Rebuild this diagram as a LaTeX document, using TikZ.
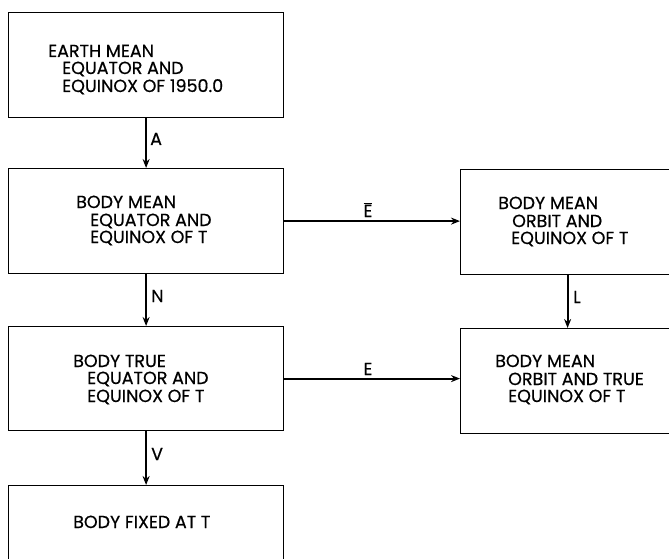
\documentclass[tikz,border=0pt]{standalone}
\usepackage{fontspec}
\setmainfont{Poppins}[FakeBold=0.5]
\usetikzlibrary{arrows.meta}
\begin{document}
\begin{tikzpicture}[x=1pt,y=-1pt,
 box/.style={draw, line width=1.2pt, rectangle, inner sep=0pt, anchor=north west},
 txt/.style={anchor=base west, inner sep=0pt, font=\fontsize{17.5}{17}\selectfont},
 lbl/.style={anchor=base west, inner sep=0pt, font=\fontsize{17.5}{17}\selectfont},
 conn/.style={line width=1.8pt, -{Stealth[length=9pt,width=7pt]}}]
\useasboundingbox (0,0) rectangle (669,559);
% boxes
\node[box, minimum width=275pt, minimum height=105pt] (b1) at (8,12) {};
\node[box, minimum width=275pt, minimum height=105pt] (b2) at (8,168) {};
\node[box, minimum width=275pt, minimum height=104pt] (b3) at (8,326) {};
\node[box, minimum width=275pt, minimum height=80pt] (b4) at (8,485) {};
\node[box, minimum width=214pt, minimum height=105pt] (r1) at (460,169) {};
\node[box, minimum width=214pt, minimum height=105pt] (r2) at (460,328) {};
% texts
\node[txt] (t11) at (48,57) {EARTH MEAN};
\node[txt] (t12) at (62,74) {EQUATOR AND};
\node[txt] (t13) at (62,92) {EQUINOX OF 1950.0};
\node[txt] (t21) at (76,208) {BODY MEAN};
\node[txt] (t22) at (90,226) {EQUATOR AND};
\node[txt] (t23) at (90,243) {EQUINOX OF T};
\node[txt] (t31) at (73,367) {BODY TRUE};
\node[txt] (t32) at (87,384) {EQUATOR AND};
\node[txt] (t33) at (87,402) {EQUINOX OF T};
\node[txt] (t41) at (73,528) {BODY FIXED AT T};
\node[txt] (t51) at (498,209) {BODY MEAN};
\node[txt] (t52) at (512,227) {ORBIT AND};
\node[txt] (t53) at (511,244) {EQUINOX OF T};
\node[txt] (t61) at (495,367) {BODY MEAN};
\node[txt] (t62) at (508,385) {ORBIT AND TRUE};
\node[txt] (t63) at (508,402) {EQUINOX OF T};
% connectors
\draw[conn] (b1.south) -- (b2.north);
\draw[conn] (b2.south) -- (b3.north);
\draw[conn] (b3.south) -- (b4.north);
\draw[conn] (b2.east) -- (b2.east -| r1.west);
\draw[conn] (b3.east) -- (b3.east -| r2.west);
\draw[conn] (r1.south) -- (r2.north);
% labels
\node[lbl] (la) at (150,145) {A};
\node[lbl] (ln) at (151,302) {N};
\node[lbl] (lv) at (151,460) {V};
\node[lbl, anchor=base] (leb) at (368,217) {$\overline{\mbox{E}}$};
\node[lbl, anchor=base] (le) at (368,375) {E};
\node[lbl] (ll) at (573,303) {L};
\end{tikzpicture}
\end{document}
